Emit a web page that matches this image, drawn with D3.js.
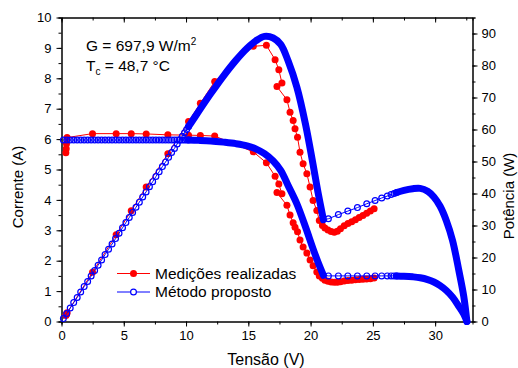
<!DOCTYPE html>
<html>
<head>
<meta charset="utf-8">
<script src="https://cdn.jsdelivr.net/npm/d3@7"></script>
<style>
  body { margin: 0; background: #fff; }
  svg { font-family: Arial, "Liberation Sans", sans-serif; }
</style>
</head>
<body>
<svg id="chart" width="518" height="368"></svg>
<script>
// ---- measured points (Medições realizadas) ----
const measV = [0.35, 0.38, 0.40, 0.45, 2.49, 4.39, 5.60, 6.80, 8.54, 10.20, 11.15, 12.30,
  15.40, 16.45, 17.15, 17.45, 17.70, 17.30, 18.10, 18.35, 18.60, 18.75, 18.95, 19.15, 19.40,
  19.70, 19.96, 20.20, 20.50, 20.70, 20.95, 21.15, 21.40, 21.65, 21.90, 22.15, 22.40, 22.70,
  23.00, 23.30, 23.60, 23.90, 24.20, 24.50, 24.80, 25.10];
const measI = [5.55, 5.68, 5.85, 6.05, 6.18, 6.18, 6.18, 6.17, 6.14, 6.13, 6.12, 6.10,
  5.58, 5.22, 4.78, 4.52, 4.20, 4.24, 3.82, 3.50, 3.25, 3.10, 2.95, 2.68, 2.45,
  2.25, 2.02, 1.83, 1.63, 1.50, 1.42, 1.36, 1.32, 1.30, 1.29, 1.29, 1.31, 1.33,
  1.35, 1.36, 1.37, 1.38, 1.39, 1.40, 1.41, 1.43];
const measP = [1.9, 2.2, 2.3, 2.7, 15.4, 27.1, 34.6, 42.0, 52.4, 62.5, 68.2, 75.0,
  86.0, 86.3, 81.8, 78.7, 74.5, 73.4, 69.3, 65.4, 62.8, 60.2, 57.6, 52.9, 49.3,
  46.2, 42.0, 37.8, 34.7, 31.6, 30.0, 29.2, 28.6, 28.1, 27.9, 28.2, 29.0, 29.9,
  30.6, 31.2, 31.8, 32.5, 33.1, 33.8, 34.5, 35.2];

// ---- model (Método proposto): sparse markers ----
const markAV = [0.15, 0.42, 0.7, 0.98, 1.26, 1.54, 1.82, 2.1, 2.38, 2.66, 2.94, 3.22, 3.5, 3.78,
  4.06, 4.34, 4.62, 4.9, 5.17, 5.44, 5.71, 5.98, 6.25, 6.52, 6.79, 7.06, 7.32, 7.58, 7.84,
  8.1, 8.35, 8.6, 8.84, 9.07, 9.29, 9.5, 9.7, 9.88, 10.05, 10.2];
const markAI = [5.97, 5.97, 5.97, 5.97, 5.97, 5.97, 5.97, 5.97, 5.97, 5.97, 5.97, 5.97, 5.97, 5.97,
  5.97, 5.97, 5.97, 5.97, 5.97, 5.97, 5.97, 5.97, 5.97, 5.97, 5.97, 5.97, 5.97, 5.97, 5.97,
  5.97, 5.97, 5.97, 5.97, 5.97, 5.97, 5.97, 5.97, 5.97, 5.97, 5.97];
const markAP = [0.9, 2.5, 4.2, 5.9, 7.5, 9.2, 10.9, 12.5, 14.2, 15.9, 17.6, 19.2, 20.9, 22.6,
  24.2, 25.9, 27.6, 29.3, 30.9, 32.5, 34.1, 35.7, 37.3, 38.9, 40.5, 42.1, 43.7, 45.3, 46.8,
  48.4, 49.8, 51.3, 52.8, 54.1, 55.5, 56.7, 57.9, 59.0, 60.0, 60.9];

const markBV = [21.43, 22.23, 22.99, 23.76, 24.51, 25.18, 25.71, 26.16, 26.46, 26.70, 26.90];
const markBI = [1.50, 1.50, 1.50, 1.50, 1.50, 1.50, 1.50, 1.50, 1.50, 1.50, 1.50];
const markBP = [32.1, 33.4, 34.5, 35.6, 36.8, 37.8, 38.6, 39.2, 39.7, 40.0, 40.3];

// ---- model: dense parts (markers overlap into a solid band) ----
const bandAV = [10.2, 11, 12, 13, 14, 14.9, 15.6, 16.3, 17.0, 17.6, 18.2, 18.9, 19.6, 20.2, 20.6, 21.03];
const bandAI = [5.97, 5.96, 5.94, 5.90, 5.85, 5.78, 5.68, 5.52, 5.28, 4.97, 4.47, 3.87, 3.10, 2.39, 1.95, 1.52];
const bandAP = [60.9, 65.6, 71.3, 76.7, 81.6, 85.4, 87.7, 89.1, 88.6, 86.6, 81.4, 73.2, 61.5, 49.0, 40.3, 31.8];

const bandBV = [26.9, 27.5, 28.2, 28.8, 29.4, 29.9, 30.4, 30.9, 31.4, 31.9, 32.3, 32.55];
const bandBI = [1.50, 1.49, 1.47, 1.44, 1.38, 1.30, 1.18, 1.02, 0.80, 0.50, 0.24, 0.0];
const bandBP = [40.3, 41.0, 41.5, 41.6, 40.7, 38.9, 36.0, 31.5, 25.3, 16.0, 7.8, 0.0];

// ---- ticks / text ----
const xTicks = [0, 5, 10, 15, 20, 25, 30];
const yTicksI = [0, 1, 2, 3, 4, 5, 6, 7, 8, 9, 10];
const yTicksP = [0, 10, 20, 30, 40, 50, 60, 70, 80, 90];
const legendLabels = ["Medições realizadas", "Método proposto"];

const RED = "#ff0000", BLUE = "#0000ff";

const svg = d3.select("#chart");
const x = d3.scaleLinear().domain([0, 33]).range([61.5, 472.5]);
const yI = d3.scaleLinear().domain([0, 10]).range([321.5, 17.5]);
const yP = d3.scaleLinear().domain([0, 95]).range([321.5, 17.5]);

function rows(vs, is, ps) {
  return vs.map((v, k) => ({ v: v, i: is[k], p: ps[k] }));
}
const meas = rows(measV, measI, measP);
const markA = rows(markAV, markAI, markAP);
const markB = rows(markBV, markBI, markBP);
const bandA = rows(bandAV, bandAI, bandAP);
const bandB = rows(bandBV, bandBI, bandBP);
const modelAll = markA.concat(bandA.slice(1), markB, bandB);

// ---- axes ----
function minors(step, max) { return d3.range(0, max + 1e-9, step); }

function drawAxis(axis, tx, ty) {
  const g = svg.append("g").attr("transform", `translate(${tx},${ty})`).call(axis);
  g.selectAll("text").attr("font-size", 13).attr("fill", "#000").attr("font-family", "Arial, 'Liberation Sans', sans-serif");
  g.selectAll("line").attr("stroke", "#000");
  g.select(".domain").attr("stroke", "#000");
  return g;
}

// bottom
drawAxis(d3.axisBottom(x).tickValues(minors(2.5, 33)).tickSize(3).tickFormat(""), 0, 321.5);
drawAxis(d3.axisBottom(x).tickValues(xTicks).tickSize(5).tickSizeOuter(0).tickPadding(4), 0, 321.5);
// top (inward, no labels)
drawAxis(d3.axisBottom(x).tickValues(minors(2.5, 33)).tickSize(3).tickFormat(""), 0, 17.5);
drawAxis(d3.axisBottom(x).tickValues(xTicks).tickSize(5).tickSizeOuter(0).tickFormat(""), 0, 17.5);
// left
drawAxis(d3.axisLeft(yI).tickValues(minors(0.5, 10)).tickSize(3).tickFormat(""), 61.5, 0);
drawAxis(d3.axisLeft(yI).tickValues(yTicksI).tickSize(5).tickSizeOuter(0).tickPadding(5), 61.5, 0);
// right
drawAxis(d3.axisRight(yP).tickValues(minors(5, 95)).tickSize(3).tickFormat(""), 472.5, 0);
drawAxis(d3.axisRight(yP).tickValues(yTicksP).tickSize(5).tickSizeOuter(0).tickPadding(4), 472.5, 0);

// axis titles
svg.append("text").attr("x", 266).attr("y", 365).attr("text-anchor", "middle")
  .attr("font-size", 16).text("Tensão (V)");
svg.append("text").attr("transform", "translate(23,187) rotate(-90)").attr("text-anchor", "middle")
  .attr("font-size", 15).text("Corrente (A)");
svg.append("text").attr("transform", "translate(514,196) rotate(-90)").attr("text-anchor", "middle")
  .attr("font-size", 15).text("Potência (W)");

// ---- measured series ----
const plot = svg.append("g");
[["i", yI], ["p", yP]].forEach(([key, ys]) => {
  plot.append("path").datum(meas)
    .attr("fill", "none").attr("stroke", RED).attr("stroke-width", 1)
    .attr("d", d3.line().x(d => x(d.v)).y(d => ys(d[key])));
  plot.selectAll(null).data(meas).enter().append("circle")
    .attr("cx", d => x(d.v)).attr("cy", d => ys(d[key]))
    .attr("r", 3.5).attr("fill", RED);
});

// ---- model series ----
[["i", yI], ["p", yP]].forEach(([key, ys]) => {
  plot.append("path").datum(modelAll)
    .attr("fill", "none").attr("stroke", BLUE).attr("stroke-width", 1)
    .attr("d", d3.line().x(d => x(d.v)).y(d => ys(d[key])));
  [bandA, bandB].forEach(b => {
    plot.append("path").datum(b)
      .attr("fill", "none").attr("stroke", BLUE).attr("stroke-width", 7)
      .attr("stroke-linecap", "round").attr("stroke-linejoin", "round")
      .attr("d", d3.line().curve(d3.curveCatmullRom.alpha(0.5)).x(d => x(d.v)).y(d => ys(d[key])));
  });
  plot.selectAll(null).data(markA.concat(markB)).enter().append("circle")
    .attr("cx", d => x(d.v)).attr("cy", d => ys(d[key]))
    .attr("r", 2.9).attr("fill", "none").attr("stroke", BLUE).attr("stroke-width", 1.2);
});

// ---- annotation ----
const ann = svg.append("g").attr("font-size", 15.5);
const g1 = ann.append("text").attr("x", 86).attr("y", 51);
g1.append("tspan").text("G = 697,9 W/m");
g1.append("tspan").attr("font-size", 10).attr("dy", -6).text("2");
const g2 = ann.append("text").attr("x", 86).attr("y", 71);
g2.append("tspan").text("T");
g2.append("tspan").attr("font-size", 10).attr("dy", 4).text("c");
g2.append("tspan").attr("dy", -4).text(" = 48,7 °C");

// ---- legend ----
const leg = svg.append("g");
legendLabels.forEach((lab, k) => {
  const yy = 273.5 + k * 18.5;
  const col = k === 0 ? RED : BLUE;
  leg.append("line").attr("x1", 117).attr("x2", 150).attr("y1", yy).attr("y2", yy)
    .attr("stroke", col).attr("stroke-width", 1);
  if (k === 0) {
    leg.append("circle").attr("cx", 133.5).attr("cy", yy).attr("r", 3.5).attr("fill", RED);
  } else {
    leg.append("circle").attr("cx", 133.5).attr("cy", yy).attr("r", 2.9)
      .attr("fill", "#fff").attr("stroke", BLUE).attr("stroke-width", 1.2);
  }
  leg.append("text").attr("x", 155).attr("y", yy + 5).attr("font-size", 15.5).text(lab);
});
</script>
</body>
</html>
